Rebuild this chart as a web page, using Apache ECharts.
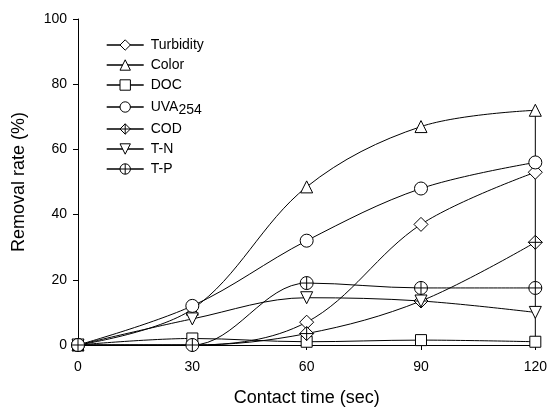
<!DOCTYPE html>
<html>
<head>
<meta charset="utf-8">
<script src="https://cdn.jsdelivr.net/npm/echarts@6/dist/echarts.min.js"></script>
<style>
  html, body { margin: 0; padding: 0; background: #fff; }
  #chart { width: 550px; height: 412px; }
</style>
</head>
<body>
<div id="chart"></div>
<script>
  // contact time (sec)
  var times = [0, 30, 60, 90, 120];
  // removal rates (%)
  var turbidity = [0, 0, 7, 37, 53];
  var color = [0, 11, 48.5, 67, 72];
  var doc = [0, 2, 1, 1.5, 1];
  var uva254 = [0, 12, 32, 48, 56];
  var cod = [0, 0, 3.5, 13.5, 31.5];
  var tn = [0, 8, 14.5, 13.5, 10];
  var tp = [0, 0, 19, 17.5, 17.5];
  var yTicks = [0, 20, 40, 60, 80, 100];

  var crossDiamond = 'path://M0,-10 L10,0 L0,10 L-10,0 Z M0,-10 L0,10 M-10,0 L10,0';
  var crossCircle = 'path://M10,0 A10,10 0 1 1 -10,0 A10,10 0 1 1 10,0 Z M0,-10 L0,10 M-10,0 L10,0';

  function pairs(vals) {
    return times.map(function (t, i) { return [t, vals[i]]; });
  }

  function mk(name, vals, symbol, size) {
    return {
      name: name,
      type: 'line',
      smooth: 0.35,
      data: pairs(vals),
      symbol: symbol,
      symbolSize: size,
      showAllSymbol: true,
      lineStyle: { color: '#000', width: 1 },
      itemStyle: { color: '#fff', borderColor: '#000', borderWidth: 1 },
      emphasis: { disabled: true },
      z: 3
    };
  }

  var myChart = echarts.init(document.getElementById('chart'));
  myChart.setOption({
    animation: false,
    backgroundColor: '#fff',
    textStyle: { fontFamily: 'Liberation Sans, Arial, sans-serif', color: '#000' },
    grid: { left: 78, right: 10, top: 19, bottom: 63 },
    legend: {
      orient: 'vertical',
      left: 101,
      top: 32,
      itemWidth: 37,
      itemHeight: 13,
      itemGap: 4,
      lineStyle: { width: 1.4, color: '#000' },
      itemStyle: { borderWidth: 1 },
      data: ['Turbidity', 'Color', 'DOC', 'UVA254', 'COD', 'T-N', 'T-P'],
      formatter: function (n) {
        return n === 'UVA254' ? 'UVA{sub|254}' : n;
      },
      textStyle: {
        fontSize: 14,
        lineHeight: 16,
        color: '#000',
        padding: [0, 0, 0, 2],
        rich: {
          sub: { fontSize: 14, lineHeight: 16, padding: [6, 0, 0, 0] }
        }
      }
    },
    xAxis: {
      type: 'value',
      min: 0,
      max: 120,
      interval: 30,
      name: 'Contact time (sec)',
      nameLocation: 'middle',
      nameGap: 44,
      nameTextStyle: { fontSize: 18, color: '#000', verticalAlign: 'top' },
      axisLine: { show: true, lineStyle: { color: '#000', width: 1 } },
      axisTick: { show: true, length: 5, lineStyle: { color: '#000' } },
      axisLabel: { fontSize: 14, color: '#000', margin: 15 },
      splitLine: { show: false }
    },
    yAxis: {
      type: 'value',
      min: yTicks[0],
      max: yTicks[yTicks.length - 1],
      interval: 20,
      name: 'Removal rate (%)',
      nameLocation: 'middle',
      nameGap: 50,
      nameTextStyle: { fontSize: 18, color: '#000' },
      axisLine: { show: true, lineStyle: { color: '#000', width: 1 } },
      axisTick: { show: true, length: 5, lineStyle: { color: '#000' } },
      axisLabel: { fontSize: 14, color: '#000', margin: 11 },
      splitLine: { show: false }
    },
    series: [
      mk('Turbidity', turbidity, 'diamond', 14),
      mk('Color', color, 'triangle', 12),
      mk('DOC', doc, 'rect', 11),
      mk('UVA254', uva254, 'circle', 13),
      mk('COD', cod, crossDiamond, 14),
      mk('T-N', tn, 'path://M-10,-8 L10,-8 L0,9 Z', 12),
      mk('T-P', tp, crossCircle, 13),
      // vertical connector seen at the last time point
      {
        type: 'line',
        data: [[times[4], doc[4]], [times[4], color[4]]],
        symbol: 'none',
        silent: true,
        lineStyle: { color: '#000', width: 1 },
        z: 2
      }
    ]
  });
</script>
</body>
</html>
